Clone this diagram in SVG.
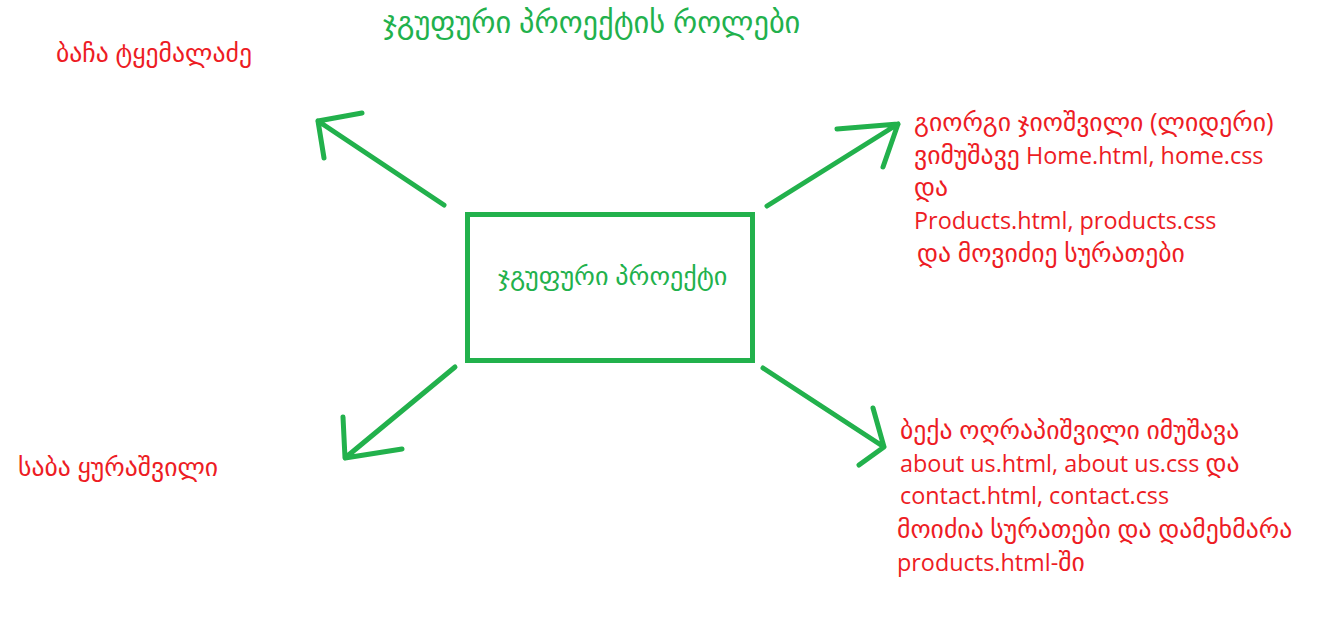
<svg xmlns="http://www.w3.org/2000/svg" width="1338" height="640" viewBox="0 0 1338 640">
<style>
.t{font-family:"Open Sans","DejaVu Sans",sans-serif;font-size:23.4px;fill:#ed1c24}
.k{font-size:25.7px}
.g{fill:#22b14c}
.ln{fill:none;stroke:#22b14c;stroke-width:5;stroke-linecap:round;stroke-linejoin:round}
</style>
<rect width="1338" height="640" fill="#fff"/>
<text id="title" class="t g" x="383" y="33" style="font-size:30.4px">ჯგუფური პროექტის როლები</text>
<g id="center">
<rect x="467.5" y="214.5" width="285" height="146" fill="none" stroke="#22b14c" stroke-width="5"/>
<text class="t g" x="498" y="285" style="font-size:26.2px">ჯგუფური პროექტი</text>
</g>
<g id="bacha"><text class="t k" x="56" y="62">ბაჩა ტყემალაძე</text></g>
<g id="saba"><text class="t k" x="18" y="476">საბა ყურაშვილი</text></g>
<g id="giorgi">
<text class="t" x="914" y="131"><tspan class="k">გიორგი ჯიოშვილი (ლიდერი)</tspan></text>
<text class="t" x="914" y="164"><tspan class="k">ვიმუშავე</tspan> Home.html, home.css</text>
<text class="t k" x="914" y="196">და</text>
<text class="t" x="914" y="229">Products.html, products.css</text>
<text class="t k" x="917" y="262">და მოვიძიე სურათები</text>
</g>
<g id="beka">
<text class="t k" x="900" y="439">ბექა ოღრაპიშვილი იმუშავა</text>
<text class="t" x="900" y="472">about us.html, about us.css <tspan class="k">და</tspan></text>
<text class="t" x="900" y="504">contact.html, contact.css</text>
<text class="t k" x="897" y="538">მოიძია სურათები და დამეხმარა</text>
<text class="t" x="897" y="571">products.html-<tspan class="k">ში</tspan></text>
</g>
<g id="connectors">
<path class="ln" d="M444 205 L318 121 M362 113 L318 121 L324 158"/>
<path class="ln" d="M767 206 L898 124 M837 129 L898 124 L883 167"/>
<path class="ln" d="M455 367 L345 458 M343 417 L345 458 L402 449"/>
<path class="ln" d="M763 368 L884 447 M873 408 L884 447 L859 465"/>
</g>
</svg>
